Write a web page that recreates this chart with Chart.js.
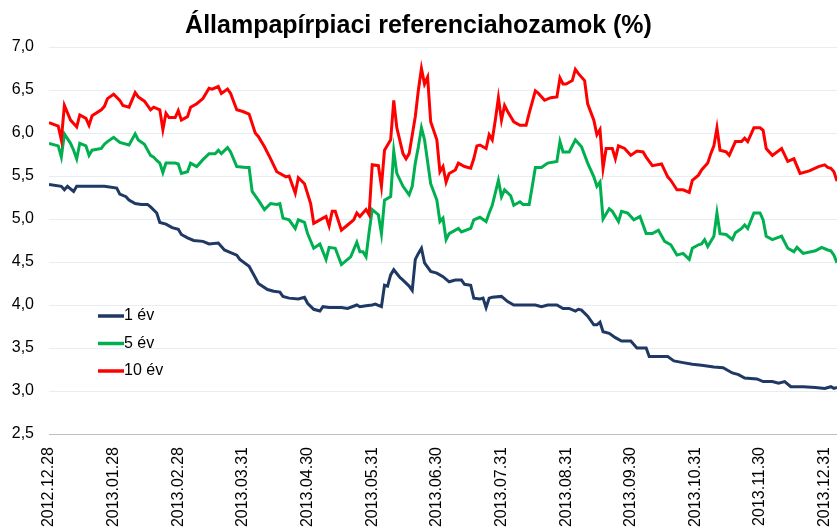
<!DOCTYPE html>
<html>
<head>
<meta charset="utf-8">
<script src="https://cdn.jsdelivr.net/npm/chart.js@4.4.1/dist/chart.umd.min.js"></script>
<style>
  body { margin: 0; background: #fff; }
  #wrap { width: 837px; height: 530px; }
</style>
</head>
<body>
<div id="wrap"><canvas id="yieldChart" width="837" height="530"></canvas></div>
<script>
// Tick labels: one every 21 business days from 2012.12.28
const tickLabels = ['2012.12.28', '2013.01.28', '2013.02.28', '2013.03.31', '2013.04.30', '2013.05.31',
    '2013.06.30', '2013.07.31', '2013.08.31', '2013.09.30', '2013.10.31', '2013.11.30', '2013.12.31'];
const tickStep = 21;
const lastDay = 256;

// 1 year yields (business day index, %)
const days1y = [0, 4, 5, 6, 8, 9, 14, 18, 22, 23, 25, 26, 28, 30, 32, 33, 35, 36, 38, 40, 42, 43, 45, 47, 50, 52,
    55, 57, 59, 61, 62, 65, 67, 68, 71, 73, 75, 76, 78, 81, 83, 84, 86, 88, 89, 91, 95, 97, 100, 101, 103, 105,
    106, 108, 109, 110, 111, 112, 114, 115, 117, 118, 119, 120, 121, 122, 124, 126, 128, 130, 132, 134, 135,
    137, 138, 140, 141, 142, 143, 144, 147, 149, 151, 154, 158, 160, 162, 165, 167, 169, 171, 172, 173, 175,
    177, 178, 179, 180, 182, 184, 186, 189, 191, 194, 195, 197, 201, 203, 206, 209, 212, 216, 219, 222, 224,
    226, 230, 232, 235, 237, 239, 241, 245, 249, 252, 254, 255, 256];
const yield1y = [5.40, 5.38, 5.34, 5.38, 5.32, 5.38, 5.38, 5.38, 5.36, 5.29, 5.26, 5.22, 5.18, 5.17, 5.17, 5.14,
    5.07, 4.96, 4.94, 4.90, 4.88, 4.82, 4.78, 4.75, 4.74, 4.71, 4.72, 4.64, 4.61, 4.58, 4.53, 4.45, 4.32, 4.25,
    4.18, 4.16, 4.15, 4.10, 4.08, 4.07, 4.09, 4.02, 3.95, 3.93, 3.98, 3.97, 3.97, 3.96, 4.00, 3.98, 3.99, 4.00,
    4.01, 3.98, 4.23, 4.22, 4.35, 4.41, 4.32, 4.29, 4.22, 4.17, 4.53, 4.60, 4.66, 4.49, 4.39, 4.37, 4.33, 4.27,
    4.29, 4.29, 4.24, 4.23, 4.08, 4.07, 4.08, 3.97, 4.08, 4.09, 4.10, 4.04, 4.00, 4.00, 4.00, 3.98, 4.00, 4.00,
    3.96, 3.96, 3.93, 3.95, 3.94, 3.87, 3.77, 3.77, 3.80, 3.69, 3.67, 3.62, 3.58, 3.58, 3.50, 3.50, 3.40, 3.40,
    3.40, 3.35, 3.33, 3.31, 3.30, 3.28, 3.27, 3.21, 3.19, 3.15, 3.14, 3.11, 3.11, 3.09, 3.11, 3.05, 3.05, 3.04,
    3.03, 3.05, 3.03, 3.04];

// 5 year yields
const days5y = [0, 3, 4, 5, 7, 8, 9, 10, 12, 13, 14, 17, 18, 19, 21, 23, 26, 28, 29, 31, 33, 34, 35, 36, 37, 38,
    41, 42, 43, 45, 46, 48, 50, 52, 54, 55, 56, 58, 59, 61, 64, 65, 66, 68, 70, 72, 74, 75, 76, 78, 80, 81, 83,
    84, 86, 88, 90, 91, 93, 95, 98, 100, 101, 102, 103, 104, 105, 107, 108, 109, 111, 112, 113, 115, 117, 118,
    119, 120, 121, 122, 124, 126, 127, 128, 129, 130, 133, 134, 137, 138, 140, 142, 143, 144, 146, 147, 148,
    150, 151, 153, 154, 156, 157, 158, 160, 162, 165, 166, 167, 169, 171, 173, 175, 177, 178, 179, 180, 182,
    183, 185, 186, 188, 190, 192, 194, 196, 198, 200, 202, 204, 206, 208, 209, 211, 212, 213, 214, 216, 217,
    218, 220, 222, 223, 225, 226, 227, 229, 231, 232, 233, 235, 238, 240, 242, 243, 245, 249, 251, 253, 254,
    255, 256];
const yield5y = [5.88, 5.85, 5.72, 5.99, 5.88, 5.80, 5.70, 5.88, 5.85, 5.74, 5.80, 5.82, 5.87, 5.90, 5.95, 5.89,
    5.86, 5.99, 5.92, 5.87, 5.74, 5.72, 5.68, 5.65, 5.54, 5.65, 5.65, 5.64, 5.53, 5.55, 5.65, 5.61, 5.69, 5.76,
    5.76, 5.80, 5.76, 5.83, 5.78, 5.61, 5.60, 5.60, 5.32, 5.22, 5.11, 5.18, 5.17, 5.18, 5.01, 4.99, 4.89, 4.99,
    4.96, 4.83, 4.66, 4.71, 4.53, 4.67, 4.66, 4.47, 4.56, 4.73, 4.62, 4.62, 4.56, 4.85, 5.11, 5.05, 4.83, 5.22,
    5.26, 5.79, 5.53, 5.38, 5.28, 5.38, 5.65, 5.84, 6.06, 5.92, 5.41, 5.22, 4.97, 5.01, 4.76, 4.83, 4.89, 4.85,
    4.89, 4.99, 5.02, 4.97, 5.07, 5.16, 5.45, 5.26, 5.34, 5.27, 5.16, 5.20, 5.17, 5.17, 5.38, 5.60, 5.60, 5.65,
    5.67, 5.90, 5.78, 5.78, 5.92, 5.84, 5.65, 5.49, 5.38, 5.43, 5.00, 5.12, 5.09, 4.97, 5.09, 5.07, 4.99, 5.03,
    4.83, 4.83, 4.87, 4.74, 4.70, 4.58, 4.60, 4.53, 4.66, 4.70, 4.71, 4.76, 4.68, 4.80, 5.07, 4.83, 4.82, 4.76,
    4.84, 4.89, 4.93, 4.89, 5.07, 5.07, 4.99, 4.80, 4.76, 4.80, 4.66, 4.62, 4.67, 4.60, 4.63, 4.67, 4.64, 4.63,
    4.58, 4.49];

// 10 year yields
const days10y = [0, 3, 4, 5, 7, 8, 9, 10, 12, 13, 14, 17, 18, 19, 21, 23, 24, 26, 28, 29, 31, 32, 33, 34, 36, 37,
    38, 39, 41, 42, 43, 45, 46, 48, 50, 52, 53, 55, 56, 58, 59, 61, 63, 65, 67, 68, 70, 72, 74, 77, 78, 80, 81,
    83, 85, 86, 88, 90, 91, 92, 93, 95, 97, 99, 100, 101, 103, 104, 105, 107, 108, 109, 111, 112, 113, 115, 116,
    117, 119, 120, 121, 122, 123, 124, 126, 127, 128, 129, 130, 132, 133, 135, 137, 138, 139, 140, 142, 143,
    144, 145, 146, 147, 148, 149, 151, 153, 155, 156, 158, 159, 161, 163, 165, 166, 167, 168, 170, 171, 172,
    174, 175, 177, 178, 179, 180, 181, 183, 184, 185, 187, 189, 191, 193, 194, 196, 199, 201, 202, 204, 206,
    208, 209, 211, 212, 214, 215, 216, 217, 218, 220, 221, 223, 225, 226, 227, 229, 231, 232, 233, 235, 238,
    240, 242, 244, 247, 250, 252, 253, 254, 255, 256];
const yield10y = [6.12, 6.08, 5.92, 6.32, 6.15, 6.11, 6.07, 6.21, 6.17, 6.09, 6.20, 6.27, 6.31, 6.40, 6.45, 6.38,
    6.32, 6.30, 6.47, 6.42, 6.37, 6.32, 6.27, 6.30, 6.27, 6.04, 6.23, 6.18, 6.18, 6.26, 6.15, 6.19, 6.30, 6.34,
    6.40, 6.52, 6.51, 6.54, 6.46, 6.51, 6.46, 6.27, 6.25, 6.22, 6.00, 5.96, 5.84, 5.70, 5.55, 5.49, 5.50, 5.30,
    5.48, 5.41, 5.18, 4.95, 4.99, 5.03, 4.92, 5.09, 5.09, 4.87, 4.93, 4.99, 5.07, 5.03, 5.11, 5.05, 5.63, 5.62,
    5.38, 5.80, 5.92, 6.38, 6.06, 5.76, 5.70, 5.76, 6.19, 6.50, 6.75, 6.57, 6.65, 6.13, 5.92, 5.55, 5.61, 5.43,
    5.53, 5.57, 5.65, 5.61, 5.59, 5.70, 5.85, 5.86, 5.82, 5.98, 5.92, 6.15, 6.41, 6.15, 6.32, 6.25, 6.13, 6.09,
    6.09, 6.23, 6.49, 6.46, 6.38, 6.41, 6.42, 6.64, 6.57, 6.57, 6.61, 6.74, 6.69, 6.61, 6.34, 6.15, 5.98, 6.04,
    5.59, 5.82, 5.82, 5.70, 5.85, 5.82, 5.74, 5.79, 5.78, 5.72, 5.62, 5.64, 5.49, 5.45, 5.34, 5.34, 5.31, 5.45,
    5.51, 5.57, 5.65, 5.76, 5.85, 6.06, 5.80, 5.78, 5.74, 5.90, 5.90, 5.94, 5.90, 6.06, 6.06, 6.03, 5.82, 5.74,
    5.82, 5.67, 5.70, 5.53, 5.56, 5.61, 5.63, 5.60, 5.59, 5.55, 5.44];

const seriesNames = ['1 év', '5 év', '10 év'];
const seriesColors = ['#1F3864', '#00B050', '#FF0000'];

function toPoints(days, values) {
    return days.map((d, i) => ({ x: d, y: values[i] }));
}

// Legend drawn inside the plot, on the left
const insideLegend = {
    id: 'insideLegend',
    afterDraw(chart) {
        const ctx = chart.ctx;
        const area = chart.chartArea;
        ctx.save();
        ctx.font = '16px "Liberation Sans", Arial, sans-serif';
        ctx.textBaseline = 'middle';
        chart.data.datasets.forEach((ds, i) => {
            const x = area.left + 49;
            const y = area.top + 269 + i * 27.5;
            ctx.strokeStyle = ds.borderColor;
            ctx.lineWidth = 3.5;
            ctx.beginPath();
            ctx.moveTo(x, y);
            ctx.lineTo(x + 26, y);
            ctx.stroke();
            ctx.fillStyle = '#000';
            ctx.fillText(ds.label, x + 26, y);
        });
        ctx.restore();
    }
};

const ctx = document.getElementById('yieldChart').getContext('2d');
new Chart(ctx, {
    type: 'line',
    data: {
        datasets: [
            { label: seriesNames[0], data: toPoints(days1y, yield1y), borderColor: seriesColors[0], order: 3 },
            { label: seriesNames[1], data: toPoints(days5y, yield5y), borderColor: seriesColors[1], order: 2 },
            { label: seriesNames[2], data: toPoints(days10y, yield10y), borderColor: seriesColors[2], order: 1 }
        ]
    },
    options: {
        responsive: false,
        animation: false,
        devicePixelRatio: 1,
        datasets: {
            line: { borderWidth: 3, pointRadius: 0, tension: 0, fill: false }
        },
        layout: { padding: 0 },
        plugins: {
            legend: { display: false },
            tooltip: { enabled: false },
            title: {
                display: true,
                text: 'Állampapírpiaci referenciahozamok (%)',
                color: '#000',
                font: { family: '"Liberation Sans", Arial, sans-serif', size: 25, weight: 'bold' },
                padding: { top: 11, bottom: 6 }
            }
        },
        scales: {
            x: {
                type: 'linear',
                min: 0,
                max: lastDay,
                afterBuildTicks: (scale) => {
                    scale.ticks = tickLabels.map((_, i) => ({ value: i * tickStep }));
                },
                afterFit: (scale) => {
                    scale.height = 96;
                    scale.paddingLeft = 0;
                    scale.paddingRight = 0;
                },
                grid: { display: false, drawTicks: false },
                border: { display: true, color: '#BFBFBF', width: 1 },
                ticks: {
                    autoSkip: false,
                    minRotation: 90,
                    maxRotation: 90,
                    padding: 13,
                    color: '#000',
                    font: { family: '"Liberation Sans", Arial, sans-serif', size: 16 },
                    callback: (value, index) => tickLabels[index]
                }
            },
            y: {
                min: 2.5,
                max: 7.0,
                afterFit: (scale) => { scale.width = 49; },
                grid: {
                    drawTicks: false,
                    color: (c) => c.tick && c.tick.value === 2.5 ? '#BFBFBF' : '#E6EDF3',
                    lineWidth: 1
                },
                border: { display: false },
                ticks: {
                    stepSize: 0.5,
                    padding: 15,
                    color: '#000',
                    font: { family: '"Liberation Sans", Arial, sans-serif', size: 16 },
                    callback: (v) => v.toFixed(1).replace('.', ',')
                }
            }
        }
    },
    plugins: [insideLegend]
});
</script>
</body>
</html>
